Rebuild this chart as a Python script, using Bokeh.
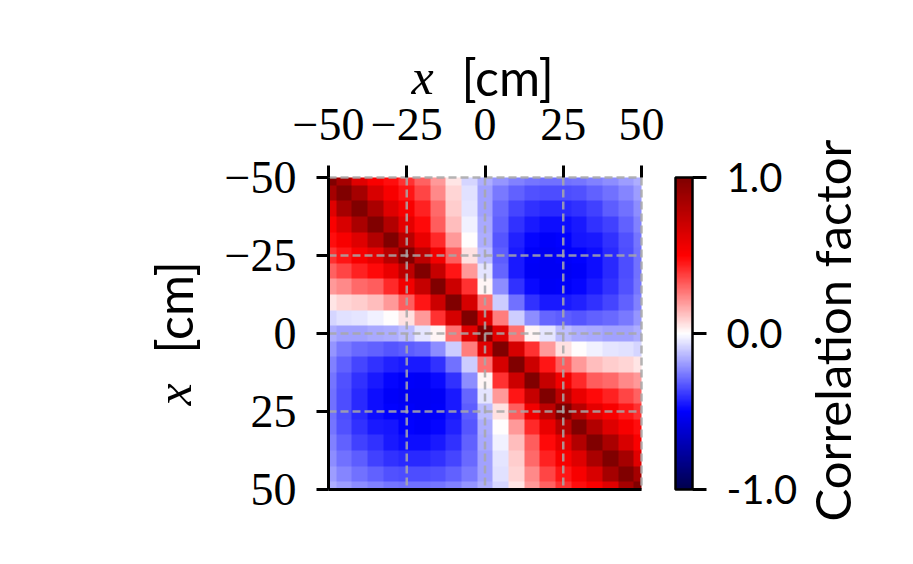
import numpy as np
from math import pi
from bokeh.plotting import figure
from bokeh.models import Range1d, LinearColorMapper, FixedTicker, LinearAxis, Label
from bokeh.embed import file_html
from bokeh.resources import INLINE

# ---- data ----
pos_cm = [-50, -45, -40, -35, -30, -25, -20, -15, -10, -5, 0,
          5, 10, 15, 20, 25, 30, 35, 40, 45, 50]
axis_ticks = [-50, -25, 0, 25, 50]
axis_tick_labels = ["\u221250", "\u221225", "0", "25", "50"]
cbar_ticks = [-1.0, 0.0, 1.0]
cbar_tick_labels = ["-1.0", "0.0", "1.0"]

# correlation factor, upper triangle: row i (y = pos_cm[i]) holds x = pos_cm[i:]
corr_upper = [
    [1.0, 0.85, 0.62, 0.52, 0.47, 0.40, 0.31, 0.20, 0.05, -0.08, -0.16, -0.21, -0.25, -0.27, -0.28, -0.28, -0.27, -0.25, -0.22, -0.19, -0.16],
    [1.0, 0.85, 0.65, 0.53, 0.46, 0.36, 0.23, 0.08, -0.06, -0.18, -0.26, -0.31, -0.34, -0.35, -0.35, -0.34, -0.31, -0.28, -0.24, -0.19],
    [1.0, 0.83, 0.63, 0.53, 0.43, 0.29, 0.10, -0.05, -0.18, -0.29, -0.36, -0.40, -0.42, -0.42, -0.40, -0.37, -0.32, -0.28, -0.22],
    [1.0, 0.80, 0.60, 0.48, 0.32, 0.13, -0.03, -0.17, -0.31, -0.40, -0.45, -0.47, -0.47, -0.45, -0.40, -0.37, -0.31, -0.25],
    [1.0, 0.78, 0.58, 0.42, 0.20, 0.0, -0.16, -0.33, -0.43, -0.49, -0.51, -0.50, -0.46, -0.45, -0.40, -0.34, -0.27],
    [1.0, 0.76, 0.55, 0.32, 0.06, -0.13, -0.32, -0.45, -0.51, -0.53, -0.51, -0.50, -0.47, -0.42, -0.35, -0.28],
    [1.0, 0.72, 0.46, 0.20, -0.05, -0.30, -0.45, -0.52, -0.53, -0.53, -0.51, -0.47, -0.42, -0.35, -0.28],
    [1.0, 0.70, 0.40, 0.02, -0.22, -0.40, -0.48, -0.52, -0.51, -0.49, -0.45, -0.40, -0.34, -0.27],
    [1.0, 0.66, 0.28, -0.10, -0.28, -0.40, -0.45, -0.45, -0.43, -0.40, -0.36, -0.31, -0.25],
    [1.0, 0.62, 0.25, -0.10, -0.22, -0.30, -0.32, -0.33, -0.31, -0.29, -0.26, -0.21],
    [1.0, 0.62, 0.28, 0.02, -0.05, -0.13, -0.16, -0.17, -0.18, -0.18, -0.16],
    [1.0, 0.66, 0.40, 0.20, 0.06, 0.0, -0.03, -0.05, -0.06, -0.08],
    [1.0, 0.70, 0.46, 0.32, 0.20, 0.13, 0.10, 0.08, 0.05],
    [1.0, 0.72, 0.55, 0.42, 0.32, 0.29, 0.23, 0.20],
    [1.0, 0.76, 0.58, 0.48, 0.43, 0.36, 0.31],
    [1.0, 0.78, 0.60, 0.53, 0.46, 0.40],
    [1.0, 0.80, 0.63, 0.53, 0.47],
    [1.0, 0.83, 0.65, 0.52],
    [1.0, 0.85, 0.62],
    [1.0, 0.85],
    [1.0],
]

# symmetric matrix table built from the read triangle
n = len(pos_cm)
Z = np.zeros((n, n))
for i, r in enumerate(corr_upper):
    for k, v in enumerate(r):
        Z[i, i + k] = v
        Z[i + k, i] = v
# cells centred on pos_cm, edge cells cut at the axis limits (-50..50)
Zimg = np.repeat(np.repeat(Z, 2, axis=0), 2, axis=1)[1:-1, 1:-1]

# seismic-like palette
anchors = [(0.0, 0.0, 0.3), (0.0, 0.0, 1.0), (1.0, 1.0, 1.0), (1.0, 0.0, 0.0), (0.5, 0.0, 0.0)]
palette = []
for k in range(256):
    t = k / 255 * 4
    i0 = min(int(t), 3)
    f = t - i0
    c = [anchors[i0][m] * (1 - f) + anchors[i0 + 1][m] * f for m in range(3)]
    palette.append("#%02x%02x%02x" % tuple(int(round(v * 255)) for v in c))
mapper = LinearColorMapper(palette=palette, low=-1, high=1)

# ---- layout (page pixels) ----
W, H, OFF = 900, 555, 1
HX0, HX1 = 329, 642      # x = -50 .. 50
HY0, HY1 = 178, 490      # y = -50 .. 50
CBX0, CBX1 = 676, 693    # colour bar
kx = (HX1 - HX0) / 100.0
ky = (HY1 - HY0) / 100.0


def X(px):
    return -50 + (px - HX0) / kx


def Y(py):
    return -50 + (py - HY0) / ky


def C(py):
    return 1 - 2.0 * (py - HY0) / (HY1 - HY0)


SERIF = "Liberation Serif"
SANS = "Lato"

p = figure(width=W, height=H,
           x_range=Range1d(X(OFF), X(OFF + W)), y_range=Range1d(Y(OFF + H), Y(OFF)),
           x_axis_location=None, y_axis_location=None,
           toolbar_location=None, output_backend="svg", min_border=0)
p.extra_y_ranges = {"cbar": Range1d(C(OFF + H), C(OFF))}
p.outline_line_color = None
for g in list(p.grid):
    g.visible = False

lo, hi = axis_ticks[0], axis_ticks[-1]
p.image(image=[Zimg], x=lo, y=lo, dw=hi - lo, dh=hi - lo, color_mapper=mapper, level="image")

# dashed grid over the map, at the tick positions
grid_style = dict(line_color="#a8a8a8", line_alpha=0.85, line_width=2.5, line_dash="8 4")
p.segment(x0=axis_ticks, y0=[lo] * len(axis_ticks), x1=axis_ticks, y1=[hi] * len(axis_ticks),
          **grid_style)
p.segment(x0=[lo] * len(axis_ticks), y0=axis_ticks, x1=[hi] * len(axis_ticks), y1=axis_ticks,
          **grid_style)

overrides = {t: l for t, l in zip(axis_ticks, axis_tick_labels)}
common = dict(ticker=FixedTicker(ticks=axis_ticks), major_label_overrides=overrides,
              major_label_text_font=SERIF, major_label_text_font_size="46px",
              major_label_text_color="black", major_tick_out=12, major_tick_in=0,
              major_tick_line_width=3, major_tick_line_color="black",
              minor_tick_line_color=None, bounds=(lo, hi))
top = LinearAxis(fixed_location=lo, axis_line_color=None, major_label_standoff=26, **common)
p.add_layout(top, "above")
left = LinearAxis(fixed_location=lo, axis_line_width=3, axis_line_color="black",
                  major_label_standoff=20, **common)
p.add_layout(left, "left")
bottom = LinearAxis(fixed_location=hi, bounds=(lo, hi), ticker=FixedTicker(ticks=[]),
                    axis_line_width=3, axis_line_color="black",
                    major_tick_line_color=None, minor_tick_line_color=None)
p.add_layout(bottom, "below")

# axis titles: italic math x + sans [cm]
lab = dict(text_baseline="alphabetic", text_color="black")
p.add_layout(Label(x=X(412), y=Y(77), text="x", text_font=SERIF, text_font_style="italic",
                   text_font_size="50px", text_align="left", **lab))
p.add_layout(Label(x=X(462), y=Y(77), text="[cm]", text_font=SANS, text_font_size="50px",
                   text_align="left", **lab))
p.add_layout(Label(x=X(174), y=Y(406), text="x", text_font=SERIF, text_font_style="italic",
                   text_font_size="50px", text_align="left", angle=pi / 2, **lab))
p.add_layout(Label(x=X(174), y=Y(354), text="[cm]", text_font=SANS, text_font_size="50px",
                   text_align="left", angle=pi / 2, **lab))

# colour bar
ramp = np.linspace(-1, 1, 256).reshape(256, 1)
p.image(image=[ramp], x=X(CBX0), y=-1, dw=X(CBX1) - X(CBX0), dh=2, color_mapper=mapper,
        y_range_name="cbar", level="image")
p.quad(left=X(CBX0), right=X(CBX1), bottom=-1, top=1, fill_color=None,
       line_color="black", line_width=2.5, y_range_name="cbar")
cax = LinearAxis(y_range_name="cbar", fixed_location=X(CBX1), bounds=(-1, 1),
                 ticker=FixedTicker(ticks=cbar_ticks),
                 major_label_overrides={t: l for t, l in zip(cbar_ticks, cbar_tick_labels)},
                 major_label_text_font=SANS, major_label_text_font_size="40px",
                 major_label_text_color="black", major_label_standoff=20,
                 axis_line_color=None, major_tick_out=14, major_tick_in=0,
                 major_tick_line_width=3, major_tick_line_color="black",
                 minor_tick_line_color=None)
p.add_layout(cax, "right")
p.add_layout(Label(x=X(832), y=Y(331), text="Correlation factor", text_font=SANS,
                   text_font_size="49px", text_align="center", angle=pi / 2, **lab))

open("out.html", "w").write(file_html(p, INLINE))
